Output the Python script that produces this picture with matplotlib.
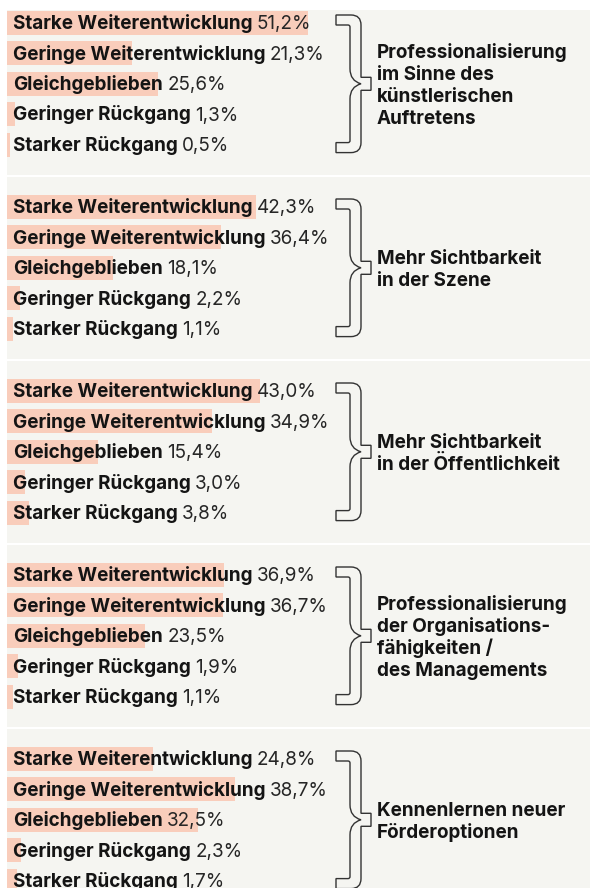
import matplotlib
matplotlib.use('Agg')
import matplotlib.pyplot as plt
from matplotlib.patches import PathPatch, Rectangle
from matplotlib.path import Path
import numpy as np

# ---------------- data ----------------
categories = ["Starke Weiterentwicklung", "Geringe Weiterentwicklung",
              "Gleichgeblieben", "Geringer Rückgang", "Starker Rückgang"]
groups = ["Professionalisierung\nim Sinne des\nkünstlerischen\nAuftretens",
          "Mehr Sichtbarkeit\nin der Szene",
          "Mehr Sichtbarkeit\nin der Öffentlichkeit",
          "Professionalisierung\nder Organisations-\nfähigkeiten /\ndes Managements",
          "Kennenlernen neuer\nFörderoptionen"]
values_1 = [51.2, 21.3, 25.6, 1.3, 0.5]
values_2 = [42.3, 36.4, 18.1, 2.2, 1.1]
values_3 = [43.0, 34.9, 15.4, 3.0, 3.8]
values_4 = [36.9, 36.7, 23.5, 1.9, 1.1]
values_5 = [24.8, 38.7, 32.5, 2.3, 1.7]
all_values = [values_1, values_2, values_3, values_4, values_5]

# ---------------- style ----------------
W, H = 590, 888
BG = '#f5f5f1'
BAR = '#f9cdbb'
TXT = '#141414'
VAL = '#262626'
FONT = 'Inter'
PX_PER_PCT = 5.88
LEFT = 7
PANEL_STEP = 184
ROW = 30.4
BAR_H = 24

fig = plt.figure(figsize=(W / 100, H / 100), dpi=100, facecolor='white')
ax_bg = fig.add_axes([0, 0, 1, 1], zorder=0)
ax_bg.set_xlim(0, W); ax_bg.set_ylim(H, 0); ax_bg.axis('off')
ax_top = fig.add_axes([0, 0, 1, 1], zorder=5)
ax_top.set_xlim(0, W); ax_top.set_ylim(H, 0); ax_top.axis('off')
ax_top.patch.set_alpha(0)

# font size fitted to measured label width
renderer = fig.canvas.get_renderer()
t = ax_top.text(0, 0, categories[0], fontsize=12, family=FONT, weight='bold')
wpx = t.get_window_extent(renderer).width
t.remove()
FS = 12 * 239 / wpx


def px2pt(p):
    return p * 72 / 100


def brace_path(xL, xR, yT, yB):
    yM = (yT + yB) / 2
    xo = xR - 10      # stem outer edge
    xi = xo - 11      # stem inner edge
    th = 10           # lip thickness
    M, L, C3, CL = Path.MOVETO, Path.LINETO, Path.CURVE3, Path.CLOSEPOLY
    v = [
        ((xL, yT), M),
        ((xo - 10, yT), L),
        ((xo, yT), C3), ((xo, yT + 10), C3),
        ((xo, yM - 6.5), L),
        ((xR, yM - 6.5), L),
        ((xR, yM + 6.5), L),
        ((xo, yM + 6.5), L),
        ((xo, yB - 10), L),
        ((xo, yB), C3), ((xo - 10, yB), C3),
        ((xL, yB), L),
        ((xL, yB - th), L),
        ((xi - 2, yB - th), L),
        ((xi, yB - th), C3), ((xi, yB - th - 2), C3),
        ((xi, yM + 15), L),
        ((xi, yM + 3), C3), ((xo, yM), C3),
        ((xi, yM - 3), C3), ((xi, yM - 15), C3),
        ((xi, yT + th + 2), L),
        ((xi, yT + th), C3), ((xi - 2, yT + th), C3),
        ((xL, yT + th), L),
        ((xL, yT), CL),
    ]
    verts = [p for p, c in v]
    codes = [c for p, c in v]
    return Path(verts, codes)


for i, vals in enumerate(all_values):
    p_top = 10 if i == 0 else 177 + PANEL_STEP * (i - 1)
    p_bot = min(175 + PANEL_STEP * i, H + 5)
    ax_bg.add_patch(Rectangle((LEFT, p_top), W - LEFT, p_bot - p_top,
                              facecolor=BG, edgecolor='none'))
    first_top = 11 + PANEL_STEP * i
    # bar axes
    a_top = first_top - (ROW - BAR_H) / 2
    a_h = 5 * ROW
    ax = fig.add_axes([LEFT / W, 1 - (a_top + a_h) / H, (W - LEFT) / W, a_h / H], zorder=1)
    ax.patch.set_alpha(0)
    ax.set_xlim(0, (W - LEFT) / PX_PER_PCT)
    ax.set_ylim(4.5, -0.5)
    ax.axis('off')
    ax.barh(range(5), vals, height=BAR_H / ROW, left=0, color=BAR, edgecolor='none')

    for r, (cat, v) in enumerate(zip(categories, vals)):
        base = first_top + ROW * r + 18.3
        lab = ax_top.text(13, base, cat, fontsize=FS, family=FONT, weight='bold',
                          color=TXT, va='baseline', ha='left')
        ax_top.annotate(f"{v:.1f}".replace('.', ',') + '%', xy=(1, 0), xycoords=lab,
                        xytext=(px2pt(4.5), 0), textcoords='offset points',
                        fontsize=FS, family=FONT, weight='normal', color=VAL,
                        va='bottom', ha='left')

    # brace
    yT = first_top + 4
    yB = first_top + 4 * ROW + BAR_H - 4
    ax_top.add_patch(PathPatch(brace_path(336, 371, yT, yB), facecolor=BG,
                               edgecolor='#333333', lw=1.0, joinstyle='miter'))

    # group label
    lines = groups[i].split('\n')
    cy = (yT + yB) / 2
    n = len(lines)
    for j, line in enumerate(lines):
        lc = cy + (j - (n - 1) / 2) * 22
        ax_top.text(377, lc + 7, line, fontsize=FS, family=FONT, weight='bold',
                    color=TXT, va='baseline', ha='left')

fig.savefig('out.png', dpi=100, facecolor='white')
